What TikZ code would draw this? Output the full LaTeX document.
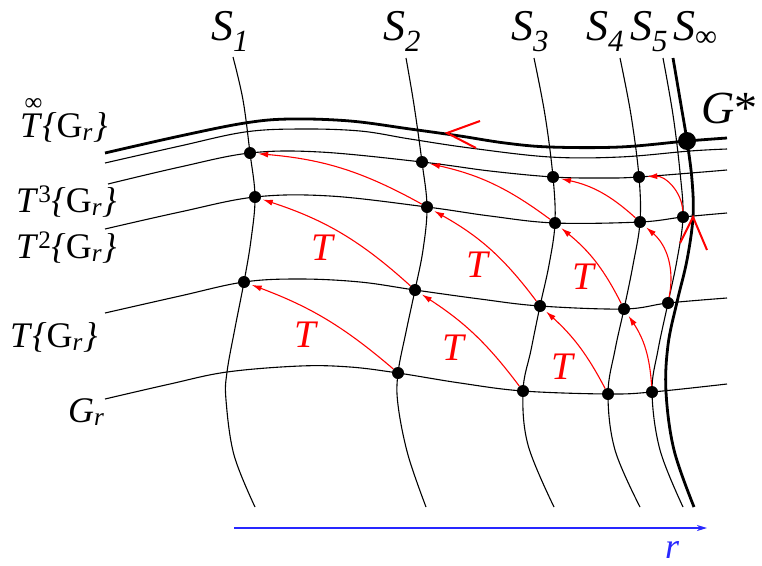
\documentclass[tikz,border=0pt]{standalone}
\usepackage{fontspec}
\setmainfont{Liberation Serif}
\usetikzlibrary{arrows.meta}
\definecolor{rblue}{RGB}{40,40,255}
\newcommand{\myGr}{G\textsubscript{\itshape r}}
\newcommand{\mylb}{\textit{\{}}
\newcommand{\myrb}{\textit{\}}}
\begin{document}
\begin{tikzpicture}[x=1pt,y=-1pt,
  curve/.style={line width=1.1pt},
  boldcurve/.style={line width=2.8pt},
  dot/.style={circle,fill=black,inner sep=0pt,minimum size=12pt},
  bigdot/.style={circle,fill=black,inner sep=0pt,minimum size=18pt},
  tarrow/.style={red,line width=1.1pt,-{Latex[length=10pt,width=6pt]},shorten >=2pt},
  tlab/.style={red,font=\fontsize{39}{42}\selectfont\itshape,inner sep=0pt},
  slab/.style={anchor=base west,inner sep=0pt,font=\fontsize{44}{48}\selectfont\itshape},
  llab/.style={anchor=base west,inner sep=0pt,font=\fontsize{36}{40}\selectfont},
  chev/.style={red,line width=2pt}]
\useasboundingbox (0,0) rectangle (762,565);

% grid points
\coordinate (pG2) at (398,373); \coordinate (pG3) at (523,391);
\coordinate (pG4) at (608,394); \coordinate (pG5) at (652,392);
\coordinate (pA1) at (244,282); \coordinate (pA2) at (415,290);
\coordinate (pA3) at (540,306); \coordinate (pA4) at (624,309);
\coordinate (pA5) at (668,303);
\coordinate (pB1) at (255,197); \coordinate (pB2) at (427,207);
\coordinate (pB3) at (555,223); \coordinate (pB4) at (640,222);
\coordinate (pB5) at (683,217);
\coordinate (pC1) at (250,153); \coordinate (pC2) at (422,162);
\coordinate (pC3) at (553,177); \coordinate (pC4) at (639,177);
\coordinate (pGs) at (687,141);

% vertical curves S_k
\draw[curve] plot[smooth,tension=0.6] coordinates {(233,57) (243,100) (pC1) (pB1) (251,240) (pA1) (235,328) (227,372) (226,400) (234,455) (255,507)};
\draw[curve] plot[smooth,tension=0.6] coordinates {(406,58) (414,105) (pC2) (pB2) (423,250) (pA2) (406,332) (pG2) (398,405) (408,455) (426,507)};
\draw[curve] plot[smooth,tension=0.6] coordinates {(534,58) (545,115) (pC3) (pB3) (549,265) (pA3) (531,350) (pG3) (528,445) (554,507)};
\draw[curve] plot[smooth,tension=0.6] coordinates {(620,58) (631,115) (pC4) (pB4) (633,265) (pA4) (615,350) (pG4) (615,450) (640,507)};
\draw[curve] plot[smooth,tension=0.6] coordinates {(663,58) (673,115) (680,172) (pB5) (677,260) (pA5) (658,350) (pG5) (660,450) (683,507)};
\draw[boldcurve] plot[smooth,tension=0.6] coordinates {(673,58) (681,105) (pGs) (692,180) (693,217) (687,260) (677,302) (668,345) (666,392) (674,450) (694,507)};

% horizontal curves
\draw[boldcurve] plot[smooth,tension=0.6] coordinates {(105,153) (180,136) (245,123) (290,119) (350,121) (410,129) (460,136) (505,143) (550,147) (620,147) (pGs) (727,138)};
\draw[curve] plot[smooth,tension=0.6] coordinates {(105,163) (180,146) (245,132) (300,129) (360,131) (410,139) (470,148) (550,157) (620,157) (690,151) (727,149)};
\draw[curve] plot[smooth,tension=0.6] coordinates {(108,184) (180,167) (pC1) (320,152) (pC2) (490,171) (pC3) (600,178) (pC4) (727,170)};
\draw[curve] plot[smooth,tension=0.6] coordinates {(105,229) (180,212) (pB1) (330,196) (pB2) (490,216) (pB3) (pB4) (pB5) (727,213)};
\draw[curve] plot[smooth,tension=0.6] coordinates {(105,313) (180,296) (pA1) (300,279) (360,282) (pA2) (480,299) (pA3) (pA4) (pA5) (727,298)};
\draw[curve] plot[smooth,tension=0.6] coordinates {(105,399) (170,384) (227,372) (300,366) (350,367) (pG2) (460,383) (pG3) (pG4) (pG5) (727,384)};

% dots
\foreach \n in {G2,G3,G4,G5,A1,A2,A3,A4,A5,B1,B2,B3,B4,B5,C1,C2,C3,C4}
  \node[dot] (\n) at (p\n) {};
\node[bigdot] (Gs) at (pGs) {};

% red T arrows
\draw[tarrow] (G2) to[bend right=10] (A1);
\draw[tarrow] (G3) to[bend right=10] (A2);
\draw[tarrow] (G4) to[bend right=10] (A3);
\draw[tarrow] (G5) to[bend right=15] (A4);
\draw[tarrow] (A2) to[bend right=12] (B1);
\draw[tarrow] (A3) to[bend right=12] (B2);
\draw[tarrow] (A4) to[bend right=12] (B3);
\draw[tarrow] (A5) to[bend right=30] (B4);
\draw[tarrow] (B2) to[bend right=12] (C1);
\draw[tarrow] (B3) to[bend right=12] (C2);
\draw[tarrow] (B4) to[bend right=15] (C3);
\draw[tarrow] (B5) to[bend right=45] (C4);

\node[tlab] (t1) at (305,335) {T};
\node[tlab] (t2) at (453,348) {T};
\node[tlab] (t3) at (562,367) {T};
\node[tlab] (t4) at (322,248) {T};
\node[tlab] (t5) at (477,265) {T};
\node[tlab] (t6) at (583,277) {T};

% red chevrons
\coordinate (h1a) at (480,121); \coordinate (h1t) at (447,133); \coordinate (h1b) at (476,148);
\draw[chev] (h1a) -- (h1t) -- (h1b);
\coordinate (h2a) at (680,243); \coordinate (h2t) at (693,217); \coordinate (h2b) at (707,250);
\draw[chev] (h2a) -- (h2t) -- (h2b);

% S labels
\node[slab] (s1) at (211,40) {S\textsubscript{1}};
\node[slab] (s2) at (383,40) {S\textsubscript{2}};
\node[slab] (s3) at (511,40) {S\textsubscript{3}};
\node[slab] (s4) at (586,40) {S\textsubscript{4}};
\node[slab] (s5) at (630,40) {S\textsubscript{5}};
\node[slab] (sinf) at (673,40) {S\textsubscript{\upshape ∞}};
\node[anchor=base west,inner sep=0pt,font=\fontsize{46}{50}\selectfont] (gstar) at (701,123) {\textit{G}*};

% left labels
\node[llab] (l4) at (20,137) {\textit{T}\llap{\raisebox{27pt}{\fontsize{25}{25}\selectfont ∞}}\mylb\myGr\myrb};
\node[llab] (l3) at (16,212) {\textit{T}\textsuperscript{3}\mylb\myGr\myrb};
\node[llab] (l2) at (16,258) {\textit{T}\textsuperscript{2}\mylb\myGr\myrb};
\node[llab] (l1) at (10,347) {\textit{T}\mylb\myGr\myrb};
\node[llab] (l0) at (68,422) {\textit{G}\textsubscript{\itshape r}};

% r axis
\coordinate (ra) at (234,528); \coordinate (rb) at (707,528);
\draw[rblue,line width=1.2pt,-{Stealth[length=10pt,width=6pt,inset=3pt]}] (ra) -- (rb);
\node[rblue,inner sep=0pt,font=\fontsize{36}{40}\selectfont\itshape] (rl) at (672,550) {r};
\end{tikzpicture}
\end{document}
